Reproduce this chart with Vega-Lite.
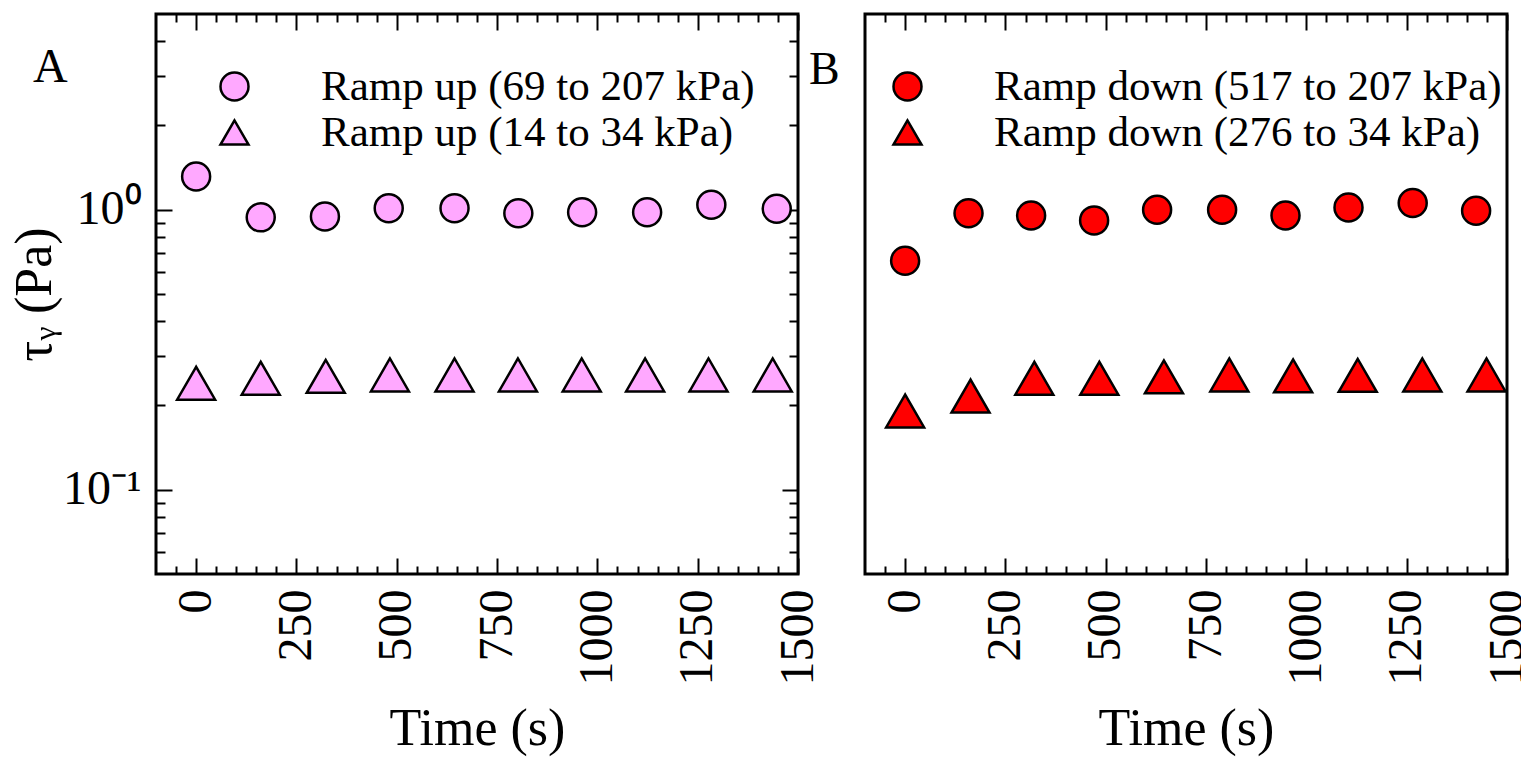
{
  "$schema": "https://vega.github.io/schema/vega-lite/v6.json",
  "background": "white",
  "padding": {"left": 7, "top": 11, "right": 5, "bottom": 2},
  "config": {
    "view": {"stroke": "black", "strokeWidth": 3},
    "font": "Liberation Serif",
    "axis": {"domain": false, "grid": false, "tickColor": "black", "tickWidth": 2, "labelColor": "black", "titleColor": "black", "labelFont": "Liberation Serif", "titleFont": "Liberation Serif", "titleFontWeight": "normal", "labelFontSize": 48, "titleFontSize": 52, "labelOverlap": false, "labelFlush": false},
    "legend": {"title": null, "labelFont": "Liberation Serif", "labelFontSize": 43, "labelColor": "black", "labelLimit": 0, "labelOffset": 65, "rowPadding": 2, "symbolSize": 784, "symbolStrokeWidth": 2.5, "symbolOpacity": 1}
  },
  "resolve": {
    "scale": {"shape": "independent", "fill": "independent", "stroke": "independent"},
    "legend": {"shape": "independent", "fill": "independent", "stroke": "independent"}
  },
  "datasets": {
    "left": [
      {"series": "Ramp up (69 to 207 kPa)", "time": 0, "tau": 1.315},
      {"series": "Ramp up (69 to 207 kPa)", "time": 161, "tau": 0.939},
      {"series": "Ramp up (69 to 207 kPa)", "time": 321, "tau": 0.946},
      {"series": "Ramp up (69 to 207 kPa)", "time": 480, "tau": 1.013},
      {"series": "Ramp up (69 to 207 kPa)", "time": 644, "tau": 1.013},
      {"series": "Ramp up (69 to 207 kPa)", "time": 803, "tau": 0.972},
      {"series": "Ramp up (69 to 207 kPa)", "time": 962, "tau": 0.98},
      {"series": "Ramp up (69 to 207 kPa)", "time": 1124, "tau": 0.98},
      {"series": "Ramp up (69 to 207 kPa)", "time": 1284, "tau": 1.042},
      {"series": "Ramp up (69 to 207 kPa)", "time": 1447, "tau": 1.008},
      {"series": "Ramp up (14 to 34 kPa)", "time": 0, "tau": 0.24},
      {"series": "Ramp up (14 to 34 kPa)", "time": 161, "tau": 0.25},
      {"series": "Ramp up (14 to 34 kPa)", "time": 323, "tau": 0.254},
      {"series": "Ramp up (14 to 34 kPa)", "time": 483, "tau": 0.257},
      {"series": "Ramp up (14 to 34 kPa)", "time": 644, "tau": 0.257},
      {"series": "Ramp up (14 to 34 kPa)", "time": 802, "tau": 0.257},
      {"series": "Ramp up (14 to 34 kPa)", "time": 961, "tau": 0.257},
      {"series": "Ramp up (14 to 34 kPa)", "time": 1119, "tau": 0.257},
      {"series": "Ramp up (14 to 34 kPa)", "time": 1277, "tau": 0.257},
      {"series": "Ramp up (14 to 34 kPa)", "time": 1437, "tau": 0.257}
    ],
    "right": [
      {"series": "Ramp down (517 to 207 kPa)", "time": 0, "tau": 0.657},
      {"series": "Ramp down (517 to 207 kPa)", "time": 158, "tau": 0.972},
      {"series": "Ramp down (517 to 207 kPa)", "time": 314, "tau": 0.954},
      {"series": "Ramp down (517 to 207 kPa)", "time": 471, "tau": 0.916},
      {"series": "Ramp down (517 to 207 kPa)", "time": 628, "tau": 1.0},
      {"series": "Ramp down (517 to 207 kPa)", "time": 790, "tau": 1.0},
      {"series": "Ramp down (517 to 207 kPa)", "time": 948, "tau": 0.954},
      {"series": "Ramp down (517 to 207 kPa)", "time": 1105, "tau": 1.019},
      {"series": "Ramp down (517 to 207 kPa)", "time": 1265, "tau": 1.056},
      {"series": "Ramp down (517 to 207 kPa)", "time": 1423, "tau": 0.992},
      {"series": "Ramp down (276 to 34 kPa)", "time": 0, "tau": 0.191},
      {"series": "Ramp down (276 to 34 kPa)", "time": 163, "tau": 0.216},
      {"series": "Ramp down (276 to 34 kPa)", "time": 322, "tau": 0.25},
      {"series": "Ramp down (276 to 34 kPa)", "time": 484, "tau": 0.25},
      {"series": "Ramp down (276 to 34 kPa)", "time": 645, "tau": 0.253},
      {"series": "Ramp down (276 to 34 kPa)", "time": 808, "tau": 0.257},
      {"series": "Ramp down (276 to 34 kPa)", "time": 967, "tau": 0.255},
      {"series": "Ramp down (276 to 34 kPa)", "time": 1128, "tau": 0.256},
      {"series": "Ramp down (276 to 34 kPa)", "time": 1289, "tau": 0.257},
      {"series": "Ramp down (276 to 34 kPa)", "time": 1449, "tau": 0.257}
    ]
  },
  "spacing": 67,
  "bounds": "flush",
  "hconcat": [
    {
      "width": 642,
      "height": 560,
      "data": {"name": "left"},
      "title": {"text": "A", "anchor": "start", "frame": "group", "orient": "top", "font": "Liberation Serif", "fontSize": 48, "fontWeight": "normal", "color": "black", "offset": 0, "baseline": "alphabetic", "dx": -123, "dy": 117},
      "layer": [
        {
          "mark": {"type": "point", "opacity": 0},
          "encoding": {
            "x": {"field": "time", "type": "quantitative", "scale": {"domain": [-100, 1500], "nice": false, "zero": false},
                  "axis": {"orient": "bottom", "values": [0, 250, 500, 750, 1000, 1250, 1500], "format": "d", "labelAngle": -90, "tickSize": -16, "labelPadding": 31, "title": "Time (s)", "titlePadding": 18}},
            "y": {"field": "tau", "type": "quantitative", "scale": {"type": "log", "domain": [0.05, 5], "nice": false},
                  "axis": {"orient": "left", "values": [0.1, 1], "labelExpr": "datum.value >= 1 ? '10⁰' : '10⁻¹'", "tickSize": -16, "labelPadding": 31, "title": "τᵧ (Pa)", "titleFontSize": 52, "titlePadding": 1}}
          }
        },
        {
          "mark": {"type": "point", "opacity": 0},
          "encoding": {
            "x": {"field": "time", "type": "quantitative", "axis": {"orient": "bottom", "values": [-50, 50, 100, 150, 200, 300, 350, 400, 450, 550, 600, 650, 700, 800, 850, 900, 950, 1050, 1100, 1150, 1200, 1300, 1350, 1400, 1450], "labels": false, "tickSize": -8, "title": null}},
            "y": {"field": "tau", "type": "quantitative", "axis": {"orient": "left", "values": [0.06, 0.07, 0.08, 0.09, 0.2, 0.3, 0.4, 0.5, 0.6, 0.7, 0.8, 0.9, 2, 3, 4], "labels": false, "tickSize": -9, "title": null}}
          }
        },
        {
          "mark": {"type": "point", "opacity": 0},
          "encoding": {
            "x": {"field": "time", "type": "quantitative", "axis": {"orient": "top", "values": [0, 250, 500, 750, 1000, 1250, 1500], "labels": false, "tickSize": -16, "title": null}},
            "y": {"field": "tau", "type": "quantitative", "axis": {"orient": "right", "values": [0.1, 1], "labels": false, "tickSize": -16, "title": null}}
          }
        },
        {
          "mark": {"type": "point", "opacity": 0},
          "encoding": {
            "x": {"field": "time", "type": "quantitative", "axis": {"orient": "top", "values": [-50, 50, 100, 150, 200, 300, 350, 400, 450, 550, 600, 650, 700, 800, 850, 900, 950, 1050, 1100, 1150, 1200, 1300, 1350, 1400, 1450], "labels": false, "tickSize": -8, "title": null}},
            "y": {"field": "tau", "type": "quantitative", "axis": {"orient": "right", "values": [0.06, 0.07, 0.08, 0.09, 0.2, 0.3, 0.4, 0.5, 0.6, 0.7, 0.8, 0.9, 2, 3, 4], "labels": false, "tickSize": -9, "title": null}}
          }
        },
        {
          "transform": [{"filter": {"field": "series", "equal": "Ramp up (69 to 207 kPa)"}}],
          "mark": {"type": "point", "filled": true, "strokeWidth": 2.5, "opacity": 1, "size": 784},
          "encoding": {
            "x": {"field": "time", "type": "quantitative", "axis": null},
            "y": {"field": "tau", "type": "quantitative", "axis": null},
            "shape": {"field": "series", "type": "nominal", "scale": {"domain": ["Ramp up (69 to 207 kPa)", "Ramp up (14 to 34 kPa)"], "range": ["circle", "triangle-up"]}, "legend": {"title": null, "orient": "none", "legendX": 57, "legendY": 51}},
            "fill": {"field": "series", "type": "nominal", "scale": {"domain": ["Ramp up (69 to 207 kPa)", "Ramp up (14 to 34 kPa)"], "range": ["#FFA8FF", "#FFA8FF"]}, "legend": {"title": null, "orient": "none", "legendX": 57, "legendY": 51}},
            "stroke": {"field": "series", "type": "nominal", "scale": {"domain": ["Ramp up (69 to 207 kPa)", "Ramp up (14 to 34 kPa)"], "range": ["black", "black"]}, "legend": {"title": null, "orient": "none", "legendX": 57, "legendY": 51}}
          }
        },
        {
          "transform": [{"filter": {"field": "series", "equal": "Ramp up (14 to 34 kPa)"}}],
          "mark": {"type": "point", "filled": true, "strokeWidth": 2.5, "opacity": 1, "size": 1444},
          "encoding": {
            "x": {"field": "time", "type": "quantitative", "axis": null},
            "y": {"field": "tau", "type": "quantitative", "axis": null},
            "shape": {"field": "series", "type": "nominal", "scale": {"domain": ["Ramp up (69 to 207 kPa)", "Ramp up (14 to 34 kPa)"], "range": ["circle", "triangle-up"]}, "legend": {"title": null, "orient": "none", "legendX": 57, "legendY": 51}},
            "fill": {"field": "series", "type": "nominal", "scale": {"domain": ["Ramp up (69 to 207 kPa)", "Ramp up (14 to 34 kPa)"], "range": ["#FFA8FF", "#FFA8FF"]}, "legend": {"title": null, "orient": "none", "legendX": 57, "legendY": 51}},
            "stroke": {"field": "series", "type": "nominal", "scale": {"domain": ["Ramp up (69 to 207 kPa)", "Ramp up (14 to 34 kPa)"], "range": ["black", "black"]}, "legend": {"title": null, "orient": "none", "legendX": 57, "legendY": 51}}
          }
        }
      ],
      "resolve": {"axis": {"x": "independent", "y": "independent"}}
    },
    {
      "width": 642,
      "height": 560,
      "data": {"name": "right"},
      "title": {"text": "B", "anchor": "start", "frame": "group", "orient": "top", "font": "Liberation Serif", "fontSize": 46, "fontWeight": "normal", "color": "black", "offset": 0, "baseline": "alphabetic", "dx": -56, "dy": 117},
      "layer": [
        {
          "mark": {"type": "point", "opacity": 0},
          "encoding": {
            "x": {"field": "time", "type": "quantitative", "scale": {"domain": [-100, 1500], "nice": false, "zero": false},
                  "axis": {"orient": "bottom", "values": [0, 250, 500, 750, 1000, 1250, 1500], "format": "d", "labelAngle": -90, "tickSize": -16, "labelPadding": 31, "title": "Time (s)", "titlePadding": 18}},
            "y": {"field": "tau", "type": "quantitative", "scale": {"type": "log", "domain": [0.05, 5], "nice": false}, "axis": null}
          }
        },
        {
          "mark": {"type": "point", "opacity": 0},
          "encoding": {
            "x": {"field": "time", "type": "quantitative", "axis": {"orient": "bottom", "values": [-50, 50, 100, 150, 200, 300, 350, 400, 450, 550, 600, 650, 700, 800, 850, 900, 950, 1050, 1100, 1150, 1200, 1300, 1350, 1400, 1450], "labels": false, "tickSize": -8, "title": null}},
            "y": {"field": "tau", "type": "quantitative", "axis": null}
          }
        },
        {
          "mark": {"type": "point", "opacity": 0},
          "encoding": {
            "x": {"field": "time", "type": "quantitative", "axis": {"orient": "top", "values": [0, 250, 500, 750, 1000, 1250, 1500], "labels": false, "tickSize": -16, "title": null}},
            "y": {"field": "tau", "type": "quantitative", "axis": null}
          }
        },
        {
          "mark": {"type": "point", "opacity": 0},
          "encoding": {
            "x": {"field": "time", "type": "quantitative", "axis": {"orient": "top", "values": [-50, 50, 100, 150, 200, 300, 350, 400, 450, 550, 600, 650, 700, 800, 850, 900, 950, 1050, 1100, 1150, 1200, 1300, 1350, 1400, 1450], "labels": false, "tickSize": -8, "title": null}},
            "y": {"field": "tau", "type": "quantitative", "axis": null}
          }
        },
        {
          "transform": [{"filter": {"field": "series", "equal": "Ramp down (517 to 207 kPa)"}}],
          "mark": {"type": "point", "filled": true, "strokeWidth": 2.5, "opacity": 1, "size": 784},
          "encoding": {
            "x": {"field": "time", "type": "quantitative", "axis": null},
            "y": {"field": "tau", "type": "quantitative", "axis": null},
            "shape": {"field": "series", "type": "nominal", "scale": {"domain": ["Ramp down (517 to 207 kPa)", "Ramp down (276 to 34 kPa)"], "range": ["circle", "triangle-up"]}, "legend": {"title": null, "orient": "none", "legendX": 21, "legendY": 51}},
            "fill": {"field": "series", "type": "nominal", "scale": {"domain": ["Ramp down (517 to 207 kPa)", "Ramp down (276 to 34 kPa)"], "range": ["#FF0000", "#FF0000"]}, "legend": {"title": null, "orient": "none", "legendX": 21, "legendY": 51}},
            "stroke": {"field": "series", "type": "nominal", "scale": {"domain": ["Ramp down (517 to 207 kPa)", "Ramp down (276 to 34 kPa)"], "range": ["black", "black"]}, "legend": {"title": null, "orient": "none", "legendX": 21, "legendY": 51}}
          }
        },
        {
          "transform": [{"filter": {"field": "series", "equal": "Ramp down (276 to 34 kPa)"}}],
          "mark": {"type": "point", "filled": true, "strokeWidth": 2.5, "opacity": 1, "size": 1444},
          "encoding": {
            "x": {"field": "time", "type": "quantitative", "axis": null},
            "y": {"field": "tau", "type": "quantitative", "axis": null},
            "shape": {"field": "series", "type": "nominal", "scale": {"domain": ["Ramp down (517 to 207 kPa)", "Ramp down (276 to 34 kPa)"], "range": ["circle", "triangle-up"]}, "legend": {"title": null, "orient": "none", "legendX": 21, "legendY": 51}},
            "fill": {"field": "series", "type": "nominal", "scale": {"domain": ["Ramp down (517 to 207 kPa)", "Ramp down (276 to 34 kPa)"], "range": ["#FF0000", "#FF0000"]}, "legend": {"title": null, "orient": "none", "legendX": 21, "legendY": 51}},
            "stroke": {"field": "series", "type": "nominal", "scale": {"domain": ["Ramp down (517 to 207 kPa)", "Ramp down (276 to 34 kPa)"], "range": ["black", "black"]}, "legend": {"title": null, "orient": "none", "legendX": 21, "legendY": 51}}
          }
        }
      ],
      "resolve": {"axis": {"x": "independent", "y": "independent"}}
    }
  ]
}
